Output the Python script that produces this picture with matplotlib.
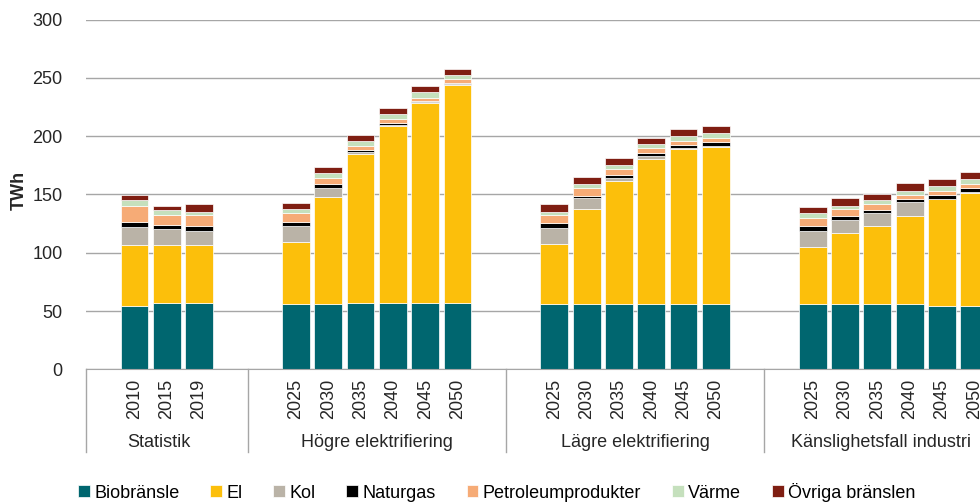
import numpy as np
import matplotlib
matplotlib.use("Agg")
import matplotlib.pyplot as plt

plt.rcParams['font.family'] = ['Liberation Sans', 'DejaVu Sans']

# grupper och år
grupper = ['Statistik', 'Högre elektrifiering', 'Lägre elektrifiering',
           'Känslighetsfall industri']
ar = [['2010', '2015', '2019'],
      ['2025', '2030', '2035', '2040', '2045', '2050'],
      ['2025', '2030', '2035', '2040', '2045', '2050'],
      ['2025', '2030', '2035', '2040', '2045', '2050']]

# TWh per energibärare (Statistik, Högre, Lägre, Känslighetsfall)
biobransle = [54.5, 56.8, 56.8,
              55.7, 55.7, 56.8, 56.8, 56.8, 56.8,
              55.7, 55.7, 55.7, 55.7, 55.7, 55.7,
              55.7, 55.7, 55.7, 55.7, 54.5, 54.5]
el = [51.8, 49.5, 49.5,
      53.2, 92.2, 128.0, 151.7, 171.5, 187.2,
      52.0, 82.0, 106.0, 124.8, 132.9, 135.1,
      49.4, 60.9, 66.9, 76.0, 91.2, 96.9]
kol = [15.9, 13.7, 12.5,
       13.9, 7.8, 1.2, 1.2, 0.7, 1.1,
       13.7, 8.9, 2.5, 2.3, 0.8, 0.6,
       13.7, 11.1, 11.6, 11.4, 0.6, 0.6]
naturgas = [4.1, 3.7, 3.8,
            3.7, 3.4, 2.2, 1.4, 1.0, 0.3,
            3.7, 2.2, 2.6, 2.9, 2.6, 3.2,
            4.0, 4.0, 2.3, 2.6, 2.8, 3.7]
petroleum = [13.7, 8.8, 9.7,
             7.7, 5.1, 3.5, 3.7, 2.8, 3.4,
             7.4, 6.9, 4.9, 3.7, 4.0, 3.9,
             7.2, 6.0, 4.9, 3.4, 3.7, 3.4]
varme = [5.4, 4.0, 2.8,
         3.5, 3.8, 4.0, 3.8, 4.6, 3.7,
         2.6, 3.4, 3.1, 4.0, 3.7, 3.8,
         4.0, 2.5, 4.0, 4.0, 4.1, 3.8]
ovriga = [4.0, 3.7, 6.6,
          5.1, 5.1, 5.1, 5.1, 5.2, 4.9,
          6.3, 5.5, 6.0, 4.9, 6.0, 6.2,
          5.1, 6.4, 5.1, 6.3, 6.2, 6.5]

serier = [('Biobränsle', biobransle, '#00666f'),
          ('El', el, '#fcbf0b'),
          ('Kol', kol, '#bab3a7'),
          ('Naturgas', naturgas, '#000000'),
          ('Petroleumprodukter', petroleum, '#f6ab76'),
          ('Värme', varme, '#c5e0bd'),
          ('Övriga bränslen', ovriga, '#7f1e12')]

# positioner: en tom plats före och efter varje grupp
pos = []
etiketter = []
kanter = [-0.5]
mitter = []
start = 0
for g, yrs in zip(grupper, ar):
    p = [start + 1 + i for i in range(len(yrs))]
    pos += p
    etiketter += yrs
    mitter.append(np.mean(p))
    start += len(yrs) + 2
    kanter.append(start - 0.5)
pos = np.array(pos)

fig = plt.figure(figsize=(9.8, 5.03), dpi=100)
# axeln sticker ut till höger (bilden är beskuren)
ax = fig.add_axes([86/980, (503-369.3)/503, 936.7/980, 349.8/503])

botten = np.zeros(len(pos))
for namn, v, c in serier:
    ax.bar(pos, v, 0.86, bottom=botten, color=c, label=namn,
           edgecolor='white', linewidth=0.5)
    botten += np.array(v)

ax.set_xlim(-0.5, start - 0.5)
ax.set_ylim(0, 300)
ax.set_yticks(np.arange(0, 301, 50))
ax.yaxis.grid(True, color='#a6a6a6', linewidth=1)
ax.set_axisbelow(True)
for s in ['top', 'right', 'left']:
    ax.spines[s].set_visible(False)
ax.spines['bottom'].set_color('#a6a6a6')
ax.tick_params(axis='y', length=0, pad=17, labelsize=13, labelcolor='#262626')
ax.set_xticks(pos)
ax.set_xticklabels(etiketter, rotation=90)
ax.tick_params(axis='x', length=0, pad=7, labelsize=13, labelcolor='#262626')

ax.set_ylabel('TWh', fontsize=13, fontweight='bold', color='#262626')
ax.yaxis.set_label_coords(-(86-28)/936.7, (369.3-190)/349.8)

# grupplinjer och gruppnamn under axeln
tr = ax.get_xaxis_transform()
for k in kanter:
    ax.plot([k, k], [0, -0.235], transform=tr, clip_on=False,
            color='#a6a6a6', linewidth=1)
forskjut = [-0.25, 0, 0, -0.4]
for g, m, f in zip(grupper, mitter, forskjut):
    ax.text(m + f, -0.208, g, transform=tr, ha='center', va='center',
            fontsize=13, color='#262626')

fig.legend(loc='center left', bbox_to_anchor=(78/980, 1-492/503), ncol=7,
           frameon=False, fontsize=13, handlelength=0.65, handleheight=0.65,
           handletextpad=0.25, columnspacing=1.7, borderpad=0,
           borderaxespad=0)

fig.savefig('out.png', dpi=100)
